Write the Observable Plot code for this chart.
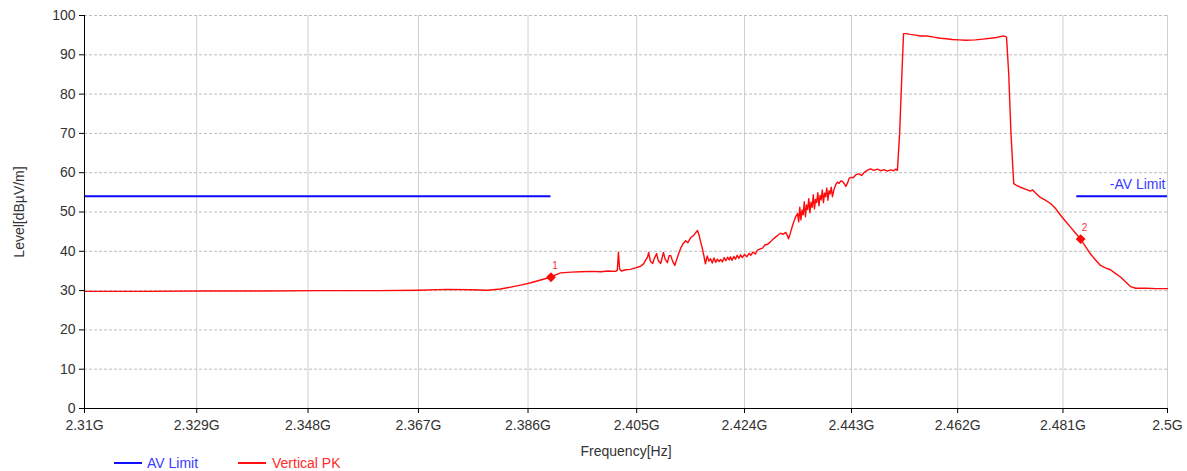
<!DOCTYPE html>
<html>
<head>
<meta charset="utf-8">
<script src="https://cdn.jsdelivr.net/npm/d3@7"></script>
<script src="https://cdn.jsdelivr.net/npm/@observablehq/plot@0.6"></script>
<style>
  html, body { margin: 0; padding: 0; background: #fff; }
  #wrap { position: relative; width: 1187px; height: 471px; font-family: 'Liberation Sans', Arial, sans-serif; }
  #legend { position: absolute; left: 0; top: 455px; width: 1187px; height: 16px; font-size: 14px; }
  #legend .ln { position: absolute; height: 2px; top: 7px; }
  #legend .tx { position: absolute; top: 0px; line-height: 16px; white-space: nowrap; }
</style>
</head>
<body>
<div id="wrap">
  <div id="chart"></div>
  <div id="legend">
    <div class="ln" style="left:114px;width:28px;background:#1010ff"></div>
    <div class="tx" style="left:147px;color:#3a3aff">AV Limit</div>
    <div class="ln" style="left:238px;width:28px;background:#ff1010"></div>
    <div class="tx" style="left:272px;color:#ff2a2a">Vertical PK</div>
  </div>
</div>
<script>
// Vertical PK trace (frequency in MHz, level in dBµV/m)
const freqMHz = [
  2310, 2320, 2330, 2340, 2350, 2360, 2367, 2372, 2376, 2379,
  2381.2, 2383, 2384.7, 2386.5, 2388.2, 2389.9, 2390.8, 2391.7, 2393.5, 2395.2,
  2397, 2398.7, 2400, 2401.3, 2401.6, 2401.8, 2402.0, 2402.3, 2403.1, 2403.9,
  2404.8, 2405.7, 2406.2, 2406.6, 2406.9, 2407.1, 2407.4, 2407.8, 2408.1, 2408.5,
  2408.8, 2409.2, 2409.5, 2409.7, 2410.0, 2410.4, 2410.7, 2411.0, 2411.3, 2411.7,
  2412.0, 2412.4, 2412.8, 2413.2, 2413.6, 2414.0, 2414.5, 2415.0, 2415.4, 2415.7,
  2416.0, 2416.2, 2416.5, 2416.8, 2417.1, 2417.4, 2417.7, 2418.0, 2418.3, 2418.6,
  2418.9, 2419.2, 2419.5, 2419.8, 2420.1, 2420.4, 2420.7, 2421.0, 2421.3, 2421.5,
  2421.8, 2422.1, 2422.4, 2422.7, 2423.0, 2423.3, 2423.6, 2424.0, 2424.4, 2424.8,
  2425.1, 2425.5, 2425.9, 2426.3, 2426.8, 2427.2, 2427.6, 2428.1, 2428.6, 2429.0,
  2429.5, 2430.0, 2430.4, 2430.8, 2431.3, 2431.6, 2431.8, 2432.1, 2432.5, 2432.8,
  2433.1, 2433.4, 2433.6, 2433.8, 2434.0, 2434.2, 2434.4, 2434.6, 2434.8, 2435.0,
  2435.2, 2435.4, 2435.6, 2435.8, 2436.0, 2436.2, 2436.4, 2436.6, 2436.8, 2437.0,
  2437.2, 2437.4, 2437.6, 2437.8, 2438.0, 2438.2, 2438.4, 2438.6, 2438.8, 2439.0,
  2439.2, 2439.4, 2439.6, 2439.9, 2440.2, 2440.5, 2440.8, 2441.1, 2441.4, 2441.7,
  2442.0, 2442.3, 2442.6, 2442.9, 2443.3, 2443.8, 2444.3, 2444.8, 2445.3, 2445.8,
  2446.4, 2447.0, 2447.6, 2448.2, 2448.8, 2449.4, 2450.0, 2450.5, 2450.9, 2451.2,
  2451.6, 2452.0, 2452.3, 2452.7, 2453.5, 2454.5, 2455.3, 2456.5, 2457.7, 2458.9,
  2460.0, 2461.0, 2462.2, 2463.5, 2465.2, 2466.5, 2467.9, 2469.0, 2470.3, 2470.8,
  2471.2, 2471.6, 2472.1, 2472.6, 2473.3, 2474.2, 2475.1, 2475.5, 2476.0, 2476.9,
  2477.8, 2478.8, 2479.7, 2480.6, 2481.5, 2482.4, 2483.3, 2484.2, 2485.1, 2486.0,
  2486.9, 2487.8, 2488.7, 2489.6, 2490.5, 2491.5, 2492.4, 2493.3, 2494.2, 2496,
  2498, 2500
];
const levelPK = [
  29.8, 29.8, 29.9, 29.9, 30.0, 30.0, 30.1, 30.3, 30.2, 30.1,
  30.4, 30.9, 31.4, 32.0, 32.7, 33.4, 34.0, 34.5, 34.7, 34.8,
  34.9, 34.8, 35.0, 34.9, 35.2, 39.8, 35.5, 35.0, 35.3, 35.4,
  35.8, 36.2, 36.8, 37.8, 38.5, 39.7, 37.5, 36.9, 38.2, 39.4,
  37.6, 36.9, 38.5, 39.7, 38.0, 37.1, 38.9, 38.9, 37.5, 36.4,
  37.8, 39.5, 41.0, 42.0, 42.7, 42.2, 43.5, 44.0, 44.8, 45.3,
  44.0, 42.7, 41.0, 39.0, 36.8, 38.8, 37.5, 38.1, 37.0, 38.3,
  37.2, 38.0, 37.4, 37.9, 37.3, 38.4, 37.6, 38.5, 37.8, 38.6,
  37.7, 38.7, 38.0, 39.0, 38.2, 39.1, 38.4, 39.2, 38.6, 39.5,
  39.0, 39.8, 39.3, 40.3, 40.6, 40.8, 41.6, 41.8, 42.4, 43.0,
  43.6, 44.2, 44.6, 44.3, 44.8, 44.0, 43.2, 44.5, 46.5, 47.8,
  48.9, 49.6, 47.5, 51.2, 48.0, 50.5, 49.3, 52.6, 48.8, 51.8,
  50.6, 53.4, 49.8, 52.5, 51.2, 54.4, 50.8, 53.2, 52.4, 54.9,
  51.6, 54.2, 53.1, 55.6, 52.4, 54.8, 53.9, 56.1, 53.0, 55.4,
  54.6, 56.3, 53.9, 55.8, 57.0, 57.6, 57.3, 57.9, 57.8, 57.2,
  56.5, 57.4, 58.6, 58.8, 58.7, 59.5, 59.7, 59.3, 60.1, 60.6,
  61.0, 60.6, 60.9, 60.5, 60.8, 60.4, 60.7, 60.5, 60.9, 60.6,
  70.0, 85.0, 95.4, 95.4, 95.2, 95.0, 94.8, 94.8, 94.5, 94.2,
  94.1, 93.9, 93.8, 93.7, 93.8, 94.0, 94.2, 94.4, 94.8, 94.5,
  85.0, 70.0, 57.2, 56.8, 56.3, 55.8, 55.3, 55.6, 54.9, 53.7,
  53.0, 52.1, 50.8, 49.1, 47.6, 46.1, 44.6, 43.1, 41.2, 39.3,
  37.8, 36.4, 35.8, 35.3, 34.4, 33.4, 32.2, 31.0, 30.6, 30.6,
  30.5, 30.5
];
// AV Limit segments
const limitStartMHz = [2310, 2483.5];
const limitEndMHz = [2390, 2500];
const limitLevel = [54, 54];
// Markers
const markerFreqMHz = [2390, 2484.2];
const markerLevel = [33.4, 43.1];
const markerLabel = ["1", "2"];
// Ticks
const xTicks = [2310, 2329, 2348, 2367, 2386, 2405, 2424, 2443, 2462, 2481, 2500];
const yTicks = [0, 10, 20, 30, 40, 50, 60, 70, 80, 90, 100];

const pk = freqMHz.map((f, i) => ({f, v: levelPK[i]}));
const limits = limitLevel.map((v, i) => ({x1: limitStartMHz[i], x2: limitEndMHz[i], v}));
const markers = markerLevel.map((v, i) => ({f: markerFreqMHz[i], v, t: markerLabel[i]}));

const chart = Plot.plot({
  width: 1187,
  height: 457,
  marginTop: 15,
  marginRight: 20,
  marginBottom: 49,
  marginLeft: 84,
  style: {fontFamily: "'Liberation Sans', Arial, sans-serif", fontSize: "14px", color: "#333", background: "white", overflow: "visible"},
  x: {type: "log", domain: [2310, 2500]},
  y: {domain: [0, 100]},
  marks: [
    Plot.gridX(xTicks, {stroke: "#cfcfcf", strokeOpacity: 1}),
    Plot.gridY(yTicks, {stroke: "#bdbdbd", strokeOpacity: 1, strokeDasharray: "3,2"}),
    Plot.ruleY(limits, {y: "v", x1: "x1", x2: "x2", stroke: "#0a0aff", strokeWidth: 2}),
    Plot.text(["-AV Limit"], {x: [2500], y: [54], text: d => d, textAnchor: "end", dx: -2, dy: -12, fill: "#3a3aff", fontSize: 14}),
    Plot.line(pk, {x: "f", y: "v", stroke: "#ff0a0a", strokeWidth: 1.4}),
    Plot.dot(markers, {x: "f", y: "v", symbol: "diamond2", r: 3.5, fill: "#ff0a0a", stroke: "#ff0a0a"}),
    Plot.text(markers, {x: "f", y: "v", text: "t", dx: 4, dy: -11, fill: "#ff3030", fontSize: 10}),
    Plot.ruleY([0], {stroke: "#000"}),
    Plot.ruleX([2310], {stroke: "#000"}),
    Plot.axisX(xTicks, {tickFormat: d => (d / 1000) + "G", tickSize: 5, tickPadding: 7, stroke: "#000", fill: "#333",
      label: "Frequency[Hz]", labelAnchor: "center", labelOffset: 47, labelArrow: "none"}),
    Plot.axisY(yTicks, {tickSize: 5, tickPadding: 4, stroke: "#000", fill: "#333",
      label: "Level[dBµV/m]", labelAnchor: "center", labelOffset: 70, labelArrow: "none"})
  ]
});
document.getElementById("chart").appendChild(chart);
</script>
</body>
</html>
